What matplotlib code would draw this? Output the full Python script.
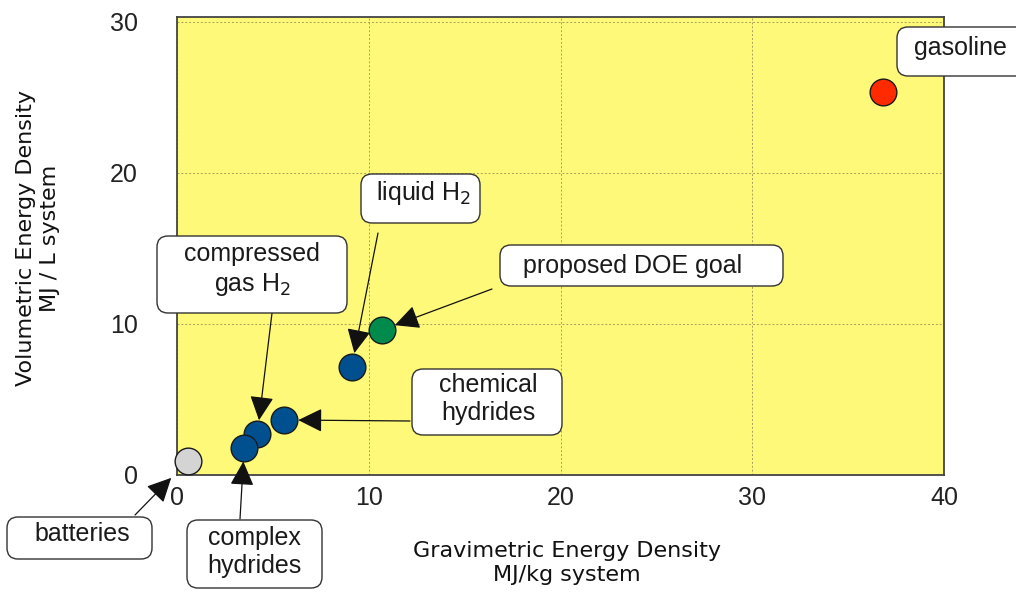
import numpy as np
import matplotlib.pyplot as plt
from matplotlib.patches import FancyBboxPatch
from matplotlib.transforms import IdentityTransform

plt.rcParams['font.family'] = ['Liberation Sans', 'DejaVu Sans']

# data
names = ['batteries', 'compressed gas H2', 'complex hydrides',
         'chemical hydrides', 'liquid H2', 'proposed DOE goal', 'gasoline']
grav = [0.56, 4.19, 3.5, 5.6, 9.11, 10.68, 36.8]      # MJ/kg
vol = [0.93, 2.71, 1.81, 3.64, 7.16, 9.59, 25.35]     # MJ/L
colors = ['#d4d4d4', '#00508f', '#00508f', '#00508f', '#00508f', '#008a4b', '#ff2a00']

xticks = [0, 10, 20, 30, 40]
yticks = [0, 10, 20, 30]

# label layout, figure pixels measured from the top-left corner
label_text = ['batteries', 'compressed\ngas H$_2$', 'complex\nhydrides',
              'chemical\nhydrides', 'liquid H$_2$', 'proposed DOE goal', 'gasoline']
label_pos = [(82, 534), (252, 270), (254, 552), (488, 399), (423, 193), (633, 266), (960, 48)]
# box: left, top, right, bottom
label_box = [(7, 517, 152, 559), (157, 236, 347, 313), (187, 520, 322, 588),
             (412, 369, 562, 435), (361, 174, 480, 223), (500, 245, 783, 286),
             (897, 27, 1040, 76)]
arrow_start = [(135, 515), (272, 313), (240, 519), (410, 421), (378, 233), (492, 289), None]
arrow_shrink = [17, 10, 10, 10, 10, 10, 0]

H = 593
fig = plt.figure(figsize=(10.16, 5.93), dpi=100)
ax = fig.add_axes([177 / 1016, 1 - 475 / H, 767 / 1016, 458 / H])
ax.set_facecolor('#fff97a')
ax.set_xlim(0, 40)
ax.set_ylim(0, 30.3)
ax.set_xticks(xticks)
ax.set_yticks(yticks)
ax.tick_params(length=0, labelsize=18, colors='#222222')
ax.tick_params(axis='y', pad=28)
ax.tick_params(axis='x', pad=8)
ax.grid(True, color='#a8a25a', linestyle=(0, (2, 2)), linewidth=0.7)
ax.set_axisbelow(True)
for s in ax.spines.values():
    s.set_color('#444444')
    s.set_linewidth(1.3)

for i in range(len(grav)):
    ax.scatter(grav[i], vol[i], s=370, color=colors[i], edgecolors='#1a1a1a',
               linewidths=1.0, zorder=3, clip_on=False)

for i in range(len(label_text)):
    l, t, r, b = label_box[i]
    box = FancyBboxPatch((l, H - b), r - l, b - t,
                         boxstyle='round,pad=0,rounding_size=11',
                         fc='white', ec='#333333', lw=1.0,
                         transform=IdentityTransform(), zorder=5)
    fig.add_artist(box)
    lx, ly = label_pos[i]
    fig.text(lx / 1016, 1 - ly / H, label_text[i], ha='center', va='center',
             fontsize=18, color='#1a1a1a', multialignment='center', zorder=6)
    if arrow_start[i] is not None:
        sx, sy = arrow_start[i]
        ax.annotate('', xy=(grav[i], vol[i]), xycoords='data',
                    xytext=(sx, H - sy), textcoords='figure pixels',
                    annotation_clip=False, zorder=4,
                    arrowprops=dict(arrowstyle='-|>,head_length=0.75,head_width=0.37',
                                    mutation_scale=20, color='#111111', lw=0.9,
                                    shrinkA=0, shrinkB=arrow_shrink[i]))

fig.text(567 / 1016, 1 - 563 / H, 'Gravimetric Energy Density\nMJ/kg system',
         ha='center', va='center', fontsize=16, family='DejaVu Sans',
         color='#111111', linespacing=1.2)
fig.text(38 / 1016, 1 - 238 / H, 'Volumetric Energy Density\nMJ / L system',
         ha='center', va='center', rotation=90, fontsize=16, family='DejaVu Sans',
         color='#111111', linespacing=1.2)

fig.savefig('out.png', dpi=100)
